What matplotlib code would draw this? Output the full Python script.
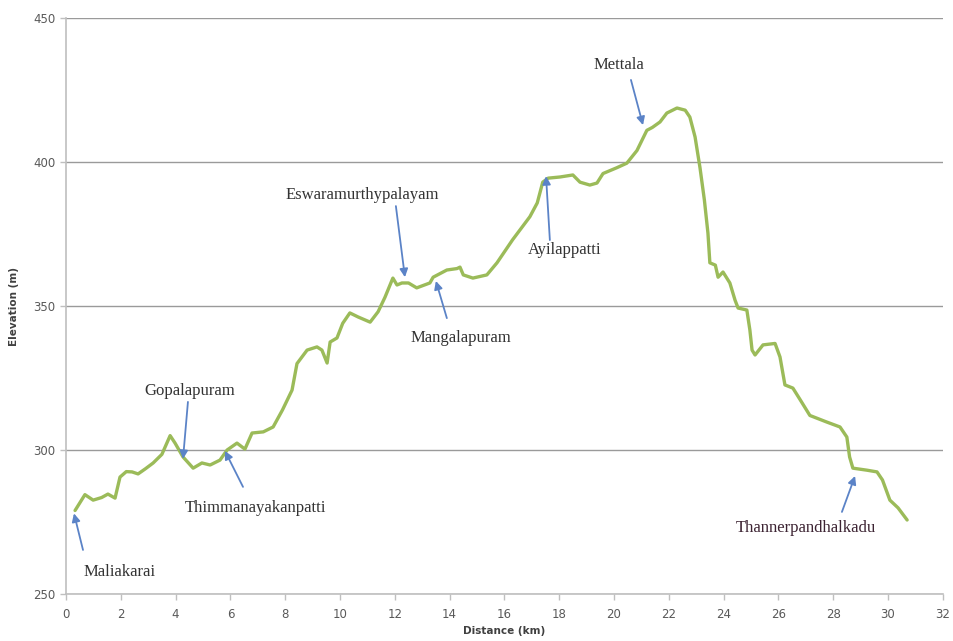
import matplotlib.pyplot as plt

# Elevation profile
distance_km = [0.33, 0.69, 0.99, 1.3, 1.53, 1.79, 1.97, 2.2, 2.41, 2.63, 2.9, 3.18, 3.5, 3.8,
               3.98, 4.27, 4.64, 4.96, 5.26, 5.62, 5.88, 6.24, 6.53, 6.79, 7.2, 7.56, 7.9,
               8.25, 8.43, 8.8, 9.16, 9.34, 9.53, 9.64, 9.89, 10.1, 10.36, 10.66, 11.1,
               11.39, 11.64, 11.93, 12.08, 12.26, 12.5, 12.8, 13.28, 13.4, 13.9, 14.27,
               14.38, 14.5, 14.85, 15.36, 15.73, 16.3, 16.93, 17.2, 17.4, 17.6, 18.03,
               18.5, 18.76, 19.12, 19.38, 19.6, 20.1, 20.47, 20.84, 21.2, 21.4, 21.68,
               21.93, 22.3, 22.6, 22.77, 22.96, 23.14, 23.3, 23.43, 23.5, 23.7, 23.8,
               23.98, 24.23, 24.42, 24.53, 24.85, 24.96, 25.04, 25.15, 25.44, 25.88,
               26.06, 26.24, 26.53, 26.8, 27.15, 27.77, 28.25, 28.5, 28.6, 28.72, 29.23,
               29.6, 29.8, 30.07, 30.37, 30.7]
elevation_m = [279, 284.5, 282.6, 283.5, 284.7, 283.3, 290.6, 292.5, 292.4, 291.7, 293.5,
               295.5, 298.5, 305, 302.4, 297.6, 293.7, 295.5, 294.8, 296.5, 300, 302.4,
               300.3, 305.9, 306.3, 308, 313.9, 320.8, 330, 334.7, 335.8, 334.7, 330.2,
               337.5, 338.9, 344, 347.6, 346.2, 344.4, 348, 353, 359.7, 357.3, 358, 358,
               356.3, 358, 360, 362.5, 363, 363.5, 360.8, 359.7, 360.8, 365, 373, 381,
               385.8, 393, 394.4, 394.8, 395.5, 393, 392, 392.7, 396, 398, 399.6, 404,
               411, 412, 413.9, 417, 418.75, 418, 415.6, 408.7, 398, 386.8, 375.3, 365,
               364.2, 360, 361.8, 358, 352, 349.3, 348.6, 341.7, 334.7, 333, 336.5, 337,
               332.3, 322.6, 321.5, 317.4, 312, 309.7, 308, 304.5, 297.6, 293.7, 293,
               292.4, 289.6, 282.6, 279.9, 275.7]

# Places along the route and where their arrows point
places = ['Maliakarai', 'Gopalapuram', 'Thimmanayakanpatti', 'Eswaramurthypalayam',
          'Mangalapuram', 'Ayilappatti', 'Mettala', 'Thannerpandhalkadu']
place_km = [0.29, 4.27, 5.8, 12.37, 13.5, 17.52, 21.06, 28.8]
place_elev = [278, 296.9, 299.7, 360, 358.7, 395.1, 412.8, 291]

# label centre and arrow tail, in data units
label_pos = [(1.97, 257.6), (4.53, 320.5), (6.9, 279.9), (10.8, 388.5),
             (14.42, 338.9), (18.2, 369.4), (20.18, 433.7), (27.0, 272.9)]
tail_pos = [(0.62, 265.3), (4.45, 316.7), (6.46, 287.2), (12.04, 384.7),
            (13.9, 345.8), (17.66, 372.9), (20.62, 428.5), (28.32, 278.5)]
label_col = ['#333333'] * 7 + ['#3d2433']

fig = plt.figure(figsize=(9.54, 6.41), dpi=100)
ax = fig.add_axes([0.0692, 0.0733, 0.919, 0.8986])

ax.plot(distance_km, elevation_m, color='#9bbb59', lw=2.4,
        solid_joinstyle='round', solid_capstyle='round', zorder=3)

for name, px, py, (lx, ly), (tx, ty), c in zip(places, place_km, place_elev,
                                                label_pos, tail_pos, label_col):
    ax.annotate('', xy=(px, py), xytext=(tx, ty),
                arrowprops=dict(arrowstyle='-|>', color='#5b83c7', lw=1.3,
                                mutation_scale=12, shrinkA=0, shrinkB=0), zorder=4)
    ax.text(lx, ly, name, ha='center', va='center', fontsize=12,
            family='Liberation Serif', color=c, zorder=5)

ax.set_xlim(0, 32)
ax.set_ylim(250, 450)
ax.set_xticks(range(0, 33, 2))
ax.set_yticks(range(250, 451, 50))
ax.yaxis.grid(True, color='#9a9a9a', lw=1.0)
ax.set_axisbelow(True)

for s in ['top', 'right']:
    ax.spines[s].set_visible(False)
for s in ['left', 'bottom']:
    ax.spines[s].set_color('#bfbfbf')
    ax.spines[s].set_linewidth(1.2)

ax.tick_params(axis='both', colors='#bfbfbf', length=4, width=1,
               labelcolor='#595959', labelsize=8.5)
ax.tick_params(axis='x', pad=6)

ax.set_xlabel('Distance (km)', fontsize=7.5, fontweight='bold', color='#404040', labelpad=4)
ax.set_ylabel('Elevation (m)', fontsize=7.5, fontweight='bold', color='#404040', labelpad=10)

fig.savefig('out.png', dpi=100)
